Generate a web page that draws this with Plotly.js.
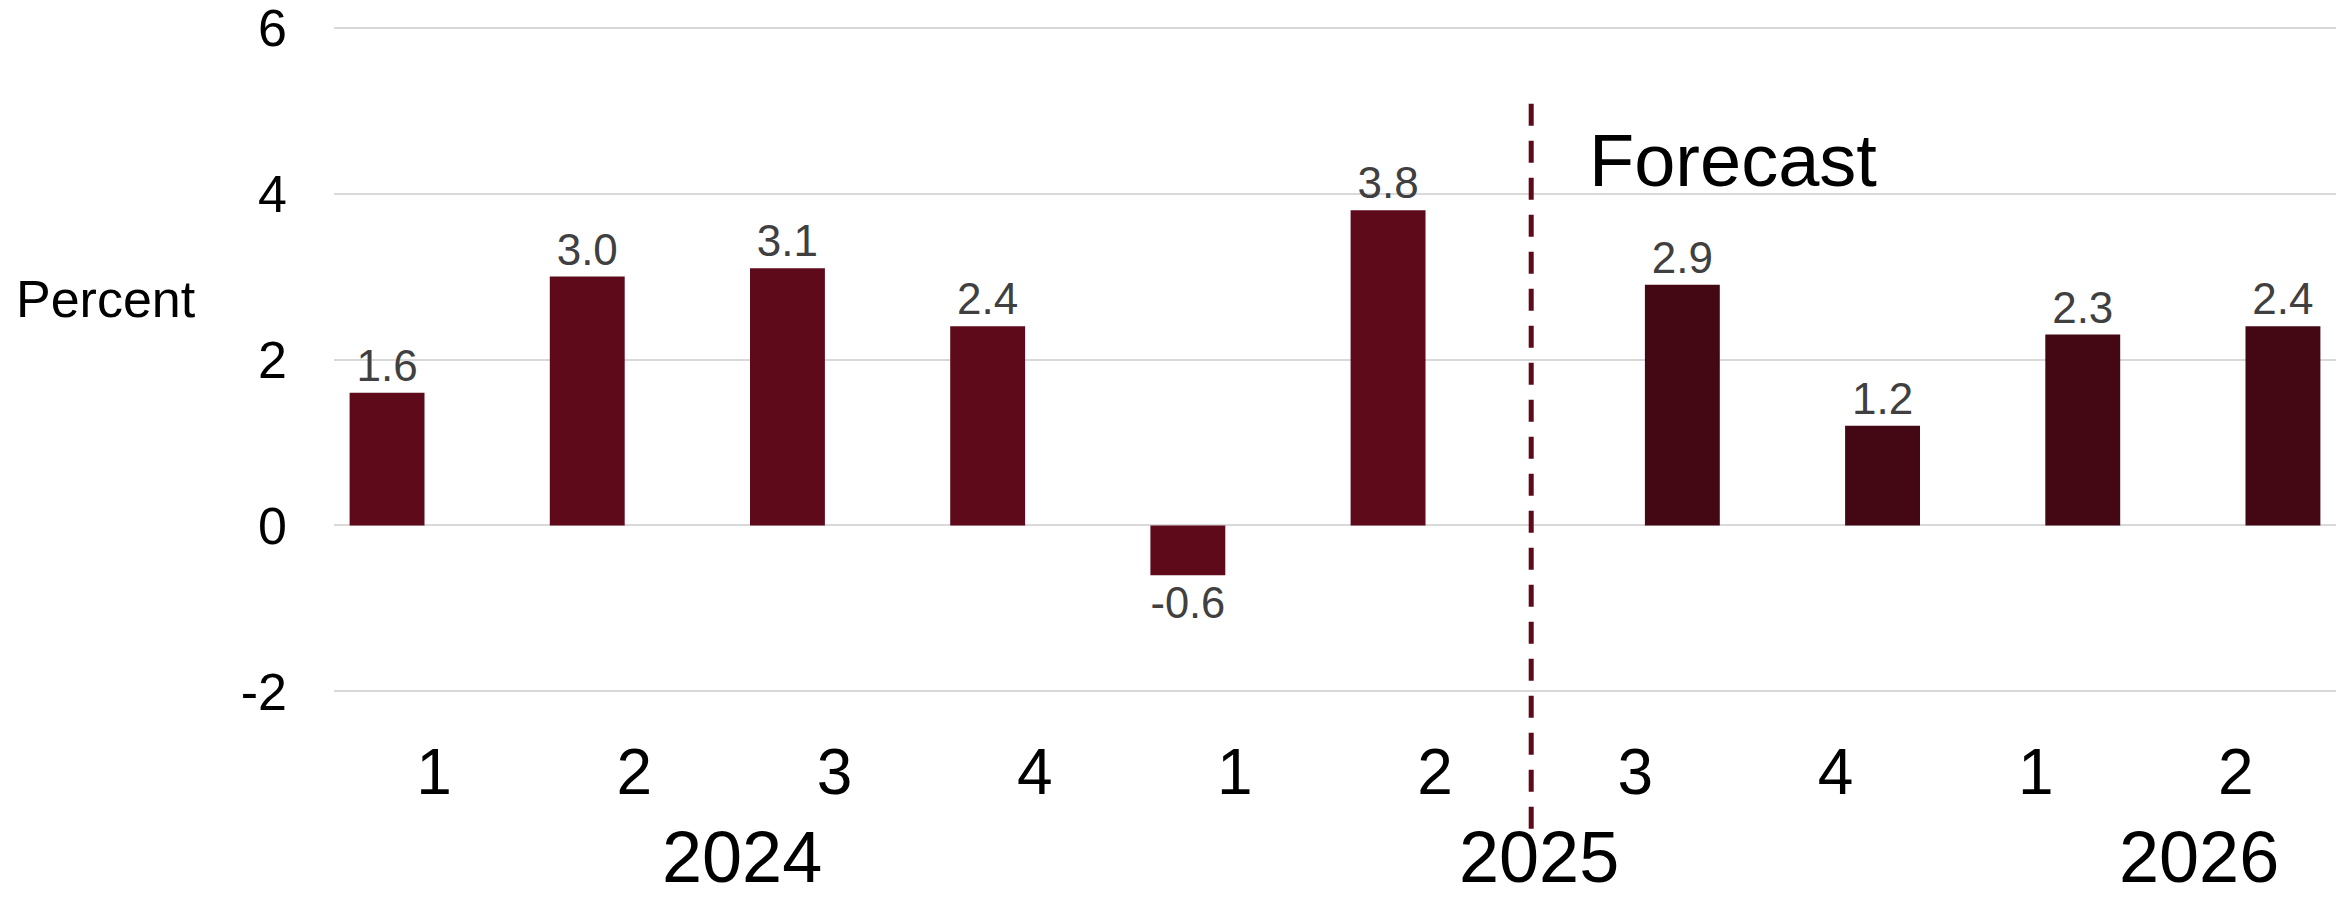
<!DOCTYPE html>
<html>
<head>
<meta charset="utf-8">
<script src="https://cdn.plot.ly/plotly-3.0.1.min.js"></script>
<style>
  html, body { margin: 0; padding: 0; background: #ffffff; }
  #chart { width: 2346px; height: 900px; }
</style>
</head>
<body>
<div id="chart"></div>
<script>
// ---- data ----
const quarters = ['2024 Q1', '2024 Q2', '2024 Q3', '2024 Q4', '2025 Q1', '2025 Q2', '2025 Q3', '2025 Q4', '2026 Q1', '2026 Q2'];
const quarterLabels = ['1', '2', '3', '4', '1', '2', '3', '4', '1', '2'];
const actualValues = [1.6, 3.0, 3.1, 2.4, -0.6, 3.8, null, null, null, null];
const forecastValues = [null, null, null, null, null, null, 2.9, 1.2, 2.3, 2.4];
const years = ['2024', '2025', '2026'];
const yTickValues = [-2, 0, 2, 4, 6];
const yTickLabels = ['-2', '0', '2', '4', '6'];
const yAxisLabel = 'Percent';
const forecastLabel = 'Forecast';

// ---- styles ----
const FONT = 'Liberation Sans, Arial, sans-serif';
const ACTUAL_COLOR = '#5E0A1B';
const FORECAST_COLOR = '#430814';
const LABEL_COLOR = '#404040';
const fmt = v => (v === null ? '' : v.toFixed(1));

const traces = [
  {
    type: 'bar', name: 'Actual', x: quarters, y: actualValues,
    marker: { color: ACTUAL_COLOR, line: { color: 'rgba(0,0,0,0)', width: 20 } },
    text: actualValues.map(fmt), textposition: 'outside', cliponaxis: false,
    textfont: { family: FONT, size: 44, color: LABEL_COLOR },
    hoverinfo: 'x+y'
  },
  {
    type: 'bar', name: 'Forecast', x: quarters, y: forecastValues,
    marker: { color: FORECAST_COLOR, line: { color: 'rgba(0,0,0,0)', width: 20 } },
    text: forecastValues.map(fmt), textposition: 'outside', cliponaxis: false,
    textfont: { family: FONT, size: 44, color: LABEL_COLOR },
    hoverinfo: 'x+y'
  }
];

const yearX = [0.2038, 0.602, 0.9316];
const annotations = [
  { text: yAxisLabel, xref: 'paper', yref: 'paper', x: -0.16, y: 0.59, xanchor: 'left', yanchor: 'middle',
    showarrow: false, font: { family: FONT, size: 52, color: '#000000' } },
  { text: forecastLabel, xref: 'paper', yref: 'paper', x: 0.626, y: 0.798, xanchor: 'left', yanchor: 'middle',
    showarrow: false, font: { family: FONT, size: 74, color: '#000000' } }
].concat(years.map((yr, i) => ({
  text: yr, xref: 'paper', yref: 'paper', x: yearX[i], y: -0.3095, xanchor: 'center', yanchor: 'bottom',
  showarrow: false, font: { family: FONT, size: 72, color: '#000000' }
})));

const layout = {
  width: 2346, height: 900,
  margin: { l: 334, r: 10, t: 26, b: 207 },
  paper_bgcolor: '#ffffff', plot_bgcolor: '#ffffff',
  showlegend: false,
  barmode: 'group', bargap: 0.06, bargroupgap: 0.204,
  font: { family: FONT, color: '#000000' },
  xaxis: {
    type: 'category', range: [-0.5, 9.5],
    tickmode: 'array', tickvals: quarters, ticktext: quarterLabels,
    tickfont: { family: FONT, size: 64, color: '#000000' },
    ticks: '', ticklabelstandoff: 36, ticklabeloverflow: 'allow',
    showgrid: false, zeroline: false, showline: false
  },
  yaxis: {
    range: [-2.02, 6.02], tickmode: 'array', tickvals: yTickValues, ticktext: yTickLabels,
    tickfont: { family: FONT, size: 52, color: '#000000' },
    ticks: '', ticklabelstandoff: 46, ticklabeloverflow: 'allow',
    showgrid: true, gridcolor: '#d9d9d9', gridwidth: 2,
    zeroline: true, zerolinecolor: '#d9d9d9', zerolinewidth: 2,
    showline: false
  },
  shapes: [
    { type: 'line', xref: 'paper', yref: 'paper', x0: 0.598, x1: 0.598, y0: -0.2036, y1: 0.8877,
      line: { color: '#5E0A1B', width: 5, dash: '22px,15px' } }
  ],
  annotations: annotations
};

Plotly.newPlot('chart', traces, layout, { displayModeBar: false, staticPlot: true });
</script>
</body>
</html>
